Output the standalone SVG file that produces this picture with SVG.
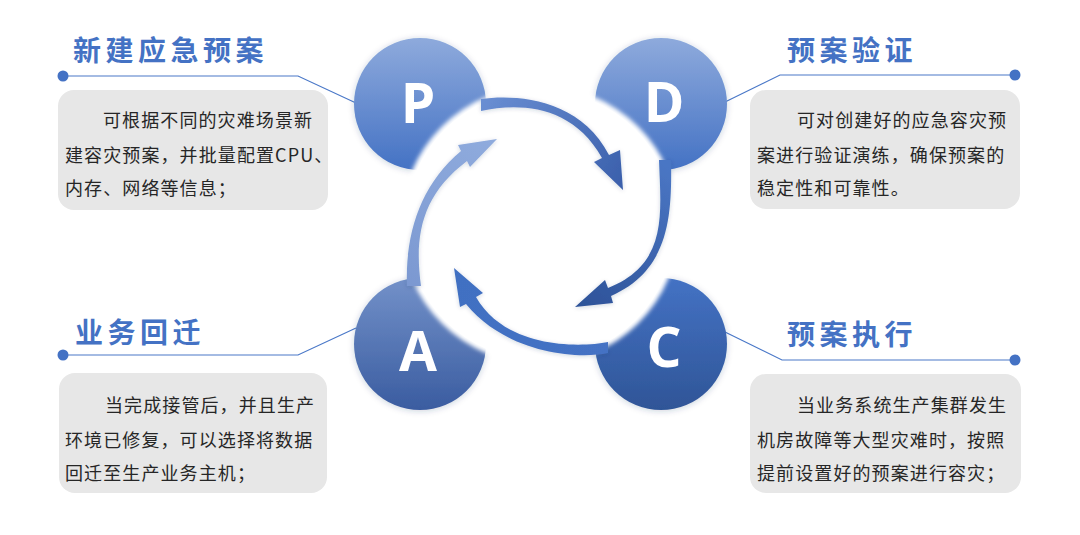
<svg xmlns="http://www.w3.org/2000/svg" width="1080" height="535" viewBox="0 0 1080 535">
  <defs>
    <style>
      .title { font-family: "Noto Sans CJK SC", "Noto Sans", sans-serif; font-size: 28px; font-weight: 700; fill: #4472c4; letter-spacing: 4.5px; }
      .body { font-family: "Noto Sans CJK SC", "Noto Sans", sans-serif; font-size: 18px; fill: #262626; letter-spacing: 1.1px; }
      .letter { font-family: "Open Sans", "Noto Sans", sans-serif; font-size: 55px; font-weight: 700; fill: #ffffff; text-anchor: middle; }
      .box { fill: #e7e7e7; }
      .link { fill: none; stroke: #4a78c8; stroke-width: 1.2; }
      .dot { fill: #4472c4; }
    </style>
    <linearGradient id="gP" x1="0" y1="0" x2="0" y2="1">
      <stop offset="0" stop-color="#8eaadc"/>
      <stop offset="1" stop-color="#4472c4"/>
    </linearGradient>
    <linearGradient id="gD" x1="0" y1="0" x2="0" y2="1">
      <stop offset="0" stop-color="#8eaadc"/>
      <stop offset="1" stop-color="#4472c4"/>
    </linearGradient>
    <linearGradient id="gA" x1="0" y1="0" x2="0" y2="1">
      <stop offset="0" stop-color="#7391c9"/>
      <stop offset="1" stop-color="#3a5ca0"/>
    </linearGradient>
    <linearGradient id="gC" x1="0" y1="0" x2="0" y2="1">
      <stop offset="0" stop-color="#4472c4"/>
      <stop offset="1" stop-color="#2f5597"/>
    </linearGradient>
    <linearGradient id="aTop" gradientUnits="userSpaceOnUse" x1="480" y1="100" x2="622" y2="190">
      <stop offset="0" stop-color="#6a8fd3"/>
      <stop offset="1" stop-color="#3a5fab"/>
    </linearGradient>
    <linearGradient id="aRight" gradientUnits="userSpaceOnUse" x1="665" y1="165" x2="578" y2="305">
      <stop offset="0" stop-color="#4a76c4"/>
      <stop offset="1" stop-color="#2e5399"/>
    </linearGradient>
    <linearGradient id="aBottom" gradientUnits="userSpaceOnUse" x1="612" y1="350" x2="455" y2="270">
      <stop offset="0" stop-color="#4472c4"/>
      <stop offset="1" stop-color="#4170c2"/>
    </linearGradient>
    <linearGradient id="aLeft" gradientUnits="userSpaceOnUse" x1="412" y1="290" x2="495" y2="140">
      <stop offset="0" stop-color="#7b98d1"/>
      <stop offset="1" stop-color="#8fabdd"/>
    </linearGradient>
    <filter id="nodeShadow" x="-20%" y="-20%" width="140%" height="140%">
      <feDropShadow dx="0" dy="1" stdDeviation="3" flood-color="#1f3864" flood-opacity="0.22"/>
    </filter>
    <filter id="soft" x="-10%" y="-10%" width="120%" height="120%">
      <feGaussianBlur stdDeviation="2.2"/>
    </filter>
    <filter id="arrowShadow" x="-20%" y="-20%" width="140%" height="140%">
      <feDropShadow dx="0" dy="1" stdDeviation="2" flood-color="#1f3864" flood-opacity="0.2"/>
    </filter>
  </defs>

  <rect x="0" y="0" width="1080" height="535" fill="#ffffff"/>

  <g id="connectors">
    <polyline class="link" points="63,76 298,76 356,103"/>
    <circle class="dot" cx="63" cy="76" r="5.5"/>
    <polyline class="link" points="1015,75 780,75 725,102"/>
    <circle class="dot" cx="1015" cy="75" r="5.5"/>
    <polyline class="link" points="63,355 298,355 356,328"/>
    <circle class="dot" cx="63" cy="355" r="5.5"/>
    <polyline class="link" points="1015,360 782,360 725,332"/>
    <circle class="dot" cx="1015" cy="360" r="5.5"/>
  </g>

  <g id="node-P">
    <circle cx="420" cy="104" r="66" fill="url(#gP)" filter="url(#nodeShadow)"/>
    <text class="letter" x="418" y="123">P</text>
  </g>
  <g id="node-D">
    <circle cx="661" cy="104" r="66" fill="url(#gD)" filter="url(#nodeShadow)"/>
    <text class="letter" x="664" y="122">D</text>
  </g>
  <g id="node-A">
    <circle cx="420" cy="344" r="66" fill="url(#gA)" filter="url(#nodeShadow)"/>
    <text class="letter" x="418" y="371">A</text>
  </g>
  <g id="node-C">
    <circle cx="661" cy="344" r="66" fill="url(#gC)" filter="url(#nodeShadow)"/>
    <text class="letter" x="664" y="367">C</text>
  </g>

  <g id="center-disc">
    <circle cx="540" cy="225" r="139" fill="#ffffff" filter="url(#soft)"/>
    <circle cx="540" cy="225" r="135" fill="#ffffff"/>
  </g>

  <g id="cycle-arrows" filter="url(#arrowShadow)">
    <path fill="url(#aTop)" d="M 481,99 C 515,94 580,98 609,155 L 620,150 L 623,190 L 594,162 L 602,158 C 572,104 518,103 481,111 Z"/>
    <path fill="url(#aRight)" d="M 671,160 C 672,215 670,270 611,296 L 613,303 L 575,307 L 605,280 L 608,288 C 668,264 661,215 659,160 Z"/>
    <path fill="url(#aBottom)" d="M 608,353 C 575,360 505,352 466,304 L 460,307 L 454,268 L 483,293 L 476,297 C 505,348 578,348 608,342 Z"/>
    <path fill="url(#aLeft)" d="M 407,286 C 405,235 420,185 461,151 L 458,145 L 497,139 L 470,167 L 467,161 C 422,195 414,235 421,286 Z"/>
  </g>

  <g id="box-plan">
    <text class="title" x="73" y="61">新建应急预案</text>
    <rect class="box" x="58" y="90" width="270" height="120" rx="16"/>
    <text class="body" x="103" y="126.5">可根据不同的灾难场景新</text>
    <text class="body" x="65" y="162">建容灾预案，并批量配置CPU、</text>
    <text class="body" x="65" y="194.5">内存、网络等信息；</text>
  </g>

  <g id="box-do">
    <text class="title" x="787" y="61">预案验证</text>
    <rect class="box" x="750" y="90" width="270" height="119" rx="16"/>
    <text class="body" x="797" y="126.5">可对创建好的应急容灾预</text>
    <text class="body" x="757" y="162">案进行验证演练，确保预案的</text>
    <text class="body" x="757" y="194.5">稳定性和可靠性。</text>
  </g>

  <g id="box-act">
    <text class="title" x="75" y="343">业务回迁</text>
    <rect class="box" x="59" y="373" width="268" height="120" rx="16"/>
    <text class="body" x="105" y="411.5">当完成接管后，并且生产</text>
    <text class="body" x="65" y="447">环境已修复，可以选择将数据</text>
    <text class="body" x="65" y="480">回迁至生产业务主机；</text>
  </g>

  <g id="box-check">
    <text class="title" x="787" y="345">预案执行</text>
    <rect class="box" x="750" y="374" width="271" height="119" rx="16"/>
    <text class="body" x="797" y="411.5">当业务系统生产集群发生</text>
    <text class="body" x="757" y="447">机房故障等大型灾难时，按照</text>
    <text class="body" x="757" y="480">提前设置好的预案进行容灾；</text>
  </g>
</svg>
